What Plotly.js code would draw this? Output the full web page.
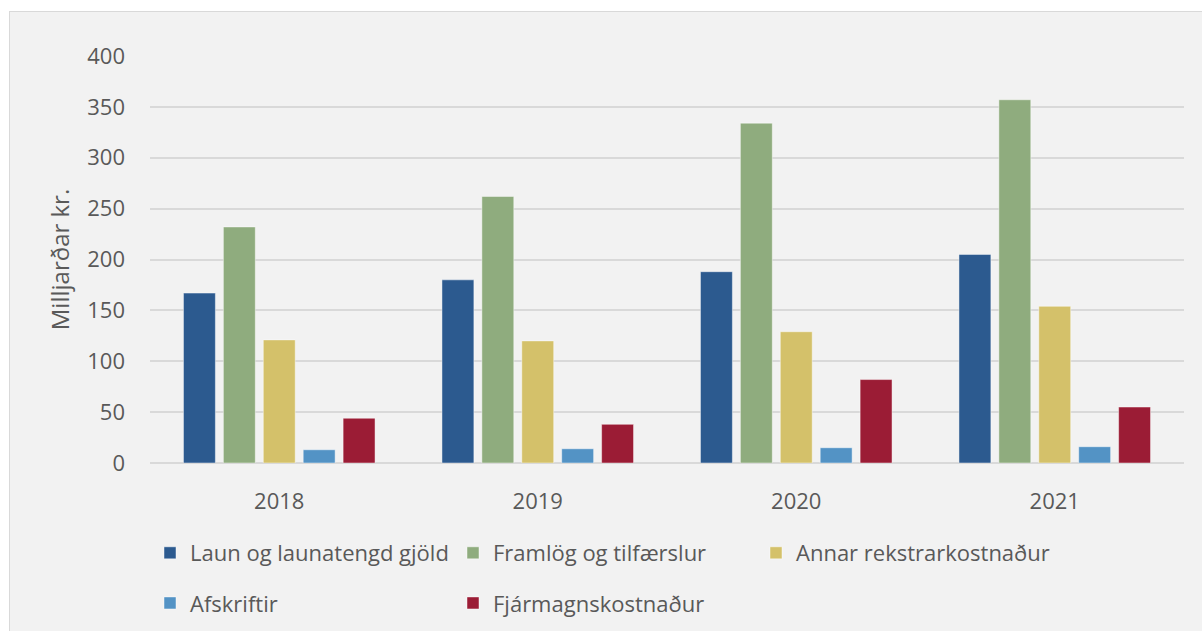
<!DOCTYPE html>
<html>
<head>
<meta charset="utf-8">
<script src="https://cdn.plot.ly/plotly-3.0.1.min.js"></script>
<style>
  html, body { margin: 0; padding: 0; background: #ffffff; }
  #chart { position: absolute; left: 9px; top: 11px; width: 1192px; height: 619px;
           border-left: 1px solid #d9d9d9; border-top: 1px solid #d9d9d9; background: #f2f2f2; }
</style>
</head>
<body>
<div id="chart"></div>
<script>
const years = ['2018', '2019', '2020', '2021'];
const seriesNames = ['Laun og launatengd gjöld', 'Framlög og tilfærslur', 'Annar rekstrarkostnaður', 'Afskriftir', 'Fjármagnskostnaður'];
const laun = [167, 180, 188, 205];
const framlog = [232, 262, 334, 357];
const annar = [121, 120, 129, 154];
const afskriftir = [13, 14, 15, 16];
const fjarmagn = [44, 38, 82, 55];
const colors = ['#2c5a8f', '#8fac7e', '#d4c16a', '#5393c5', '#9b1c35'];
const yTicks = [0, 50, 100, 150, 200, 250, 300, 350, 400];

const values = [laun, framlog, annar, afskriftir, fjarmagn];
const legendFor = ['legend', 'legend', 'legend', 'legend2', 'legend2'];

const traces = values.map((v, i) => ({
  type: 'bar',
  name: seriesNames[i],
  x: years,
  y: v,
  legend: legendFor[i],
  marker: { color: colors[i], line: { color: 'rgba(255,255,255,0.45)', width: 1 } },
  hoverinfo: 'x+y+name'
}));

const font = { family: '"Open Sans", "Noto Sans", sans-serif', color: '#595959' };

const legendBase = {
  orientation: 'h',
  x: 0.0, xanchor: 'left',
  yref: 'container',
  yanchor: 'middle',
  entrywidth: 258, entrywidthmode: 'pixels',
  bgcolor: 'rgba(0,0,0,0)',
  font: Object.assign({ size: 22 }, font),
  traceorder: 'normal',
  itemclick: false, itemdoubleclick: false
};

const layout = {
  width: 1192,
  height: 619,
  margin: { l: 140, r: 18, t: 44, b: 168, autoexpand: false },
  paper_bgcolor: '#f2f2f2',
  plot_bgcolor: '#f2f2f2',
  font: Object.assign({ size: 22 }, font),
  barmode: 'group',
  bargap: 0.228,
  bargroupgap: 0.2,
  xaxis: {
    type: 'category',
    showgrid: false,
    showline: false,
    ticks: '',
    automargin: false,
    ticklabelstandoff: 23,
    tickfont: Object.assign({ size: 22 }, font)
  },
  yaxis: {
    range: [0, 400],
    tickvals: yTicks,
    ticktext: yTicks.map(String),
    showgrid: true,
    gridcolor: '#d9d9d9',
    gridwidth: 2,
    zeroline: true,
    zerolinecolor: '#d9d9d9',
    zerolinewidth: 2,
    showline: false,
    ticks: '',
    automargin: false,
    ticklabelstandoff: 24,
    tickfont: Object.assign({ size: 22 }, font),
    title: { text: 'Milljarðar kr.', font: Object.assign({ size: 24 }, font), standoff: 10 }
  },
  legend: Object.assign({}, legendBase, { y: 0.126 }),
  legend2: Object.assign({}, legendBase, { y: 0.045 }),
  showlegend: true
};

Plotly.newPlot('chart', traces, layout, { displayModeBar: false });
</script>
</body>
</html>
